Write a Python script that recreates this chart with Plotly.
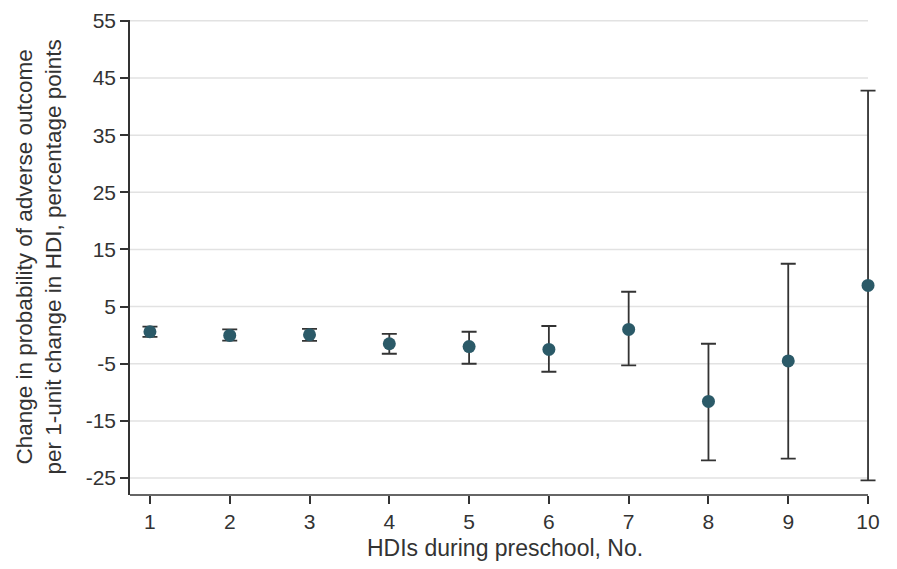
import plotly.graph_objects as go

hdis = [1, 2, 3, 4, 5, 6, 7, 8, 9, 10]
estimate = [0.6, -0.05, 0.07, -1.5, -2.0, -2.5, 1.0, -11.6, -4.5, 8.7]
ci_upper = [1.5, 1.0, 1.1, 0.24, 0.6, 1.6, 7.6, -1.5, 12.5, 42.8]
ci_lower = [-0.3, -0.95, -1.0, -3.25, -5.0, -6.4, -5.3, -21.9, -21.6, -25.4]

y_ticks = [55, 45, 35, 25, 15, 5, -5, -15, -25]
y_ticklabels = ["55", "45", "35", "25", "15", "5", "-5", "-15", "-25"]

x_title = "HDIs during preschool, No."
y_title = "Change in probability of adverse outcome<br>per 1-unit change in HDI, percentage points"

err_plus = [u - e for u, e in zip(ci_upper, estimate)]
err_minus = [e - l for e, l in zip(estimate, ci_lower)]

FONT = "Liberation Sans, Arial, sans-serif"
INK = "#333333"
GRID = "#e2e2e2"
X_MIN, X_MAX = 0.75, 10.15

fig = go.Figure()
fig.add_trace(go.Scatter(
    x=hdis, y=estimate, mode="markers",
    marker=dict(color="#2b5a68", size=13),
    error_y=dict(type="data", symmetric=False, array=err_plus, arrayminus=err_minus,
                 color=INK, thickness=1.8, width=7.5),
    cliponaxis=False, showlegend=False,
))

shapes = []
for v in y_ticks:
    shapes.append(dict(type="line", xref="x", yref="y", x0=X_MIN, x1=max(hdis), y0=v, y1=v,
                       line=dict(color=GRID, width=1.5), layer="below"))
shapes.append(dict(type="line", xref="x", yref="paper", x0=X_MIN, x1=max(hdis), y0=0, y1=0,
                   line=dict(color=INK, width=1.6), layer="above"))

fig.update_layout(
    width=897, height=569,
    margin=dict(l=122, r=25, t=12, b=82),
    paper_bgcolor="white", plot_bgcolor="white",
    font=dict(family=FONT, color=INK, size=20),
    shapes=shapes,
    xaxis=dict(
        range=[X_MIN, X_MAX], tickvals=hdis, ticktext=[str(h) for h in hdis],
        showgrid=False, zeroline=False, showline=False, automargin=False,
        ticks="outside", ticklen=8, tickcolor=INK, tickwidth=1.5,
        ticklabeloverflow="allow",
        tickfont=dict(size=21, family=FONT, color=INK),
    ),
    yaxis=dict(
        range=[-27.97, 55.15], tickvals=y_ticks, ticktext=y_ticklabels,
        showgrid=False, zeroline=False, automargin=False,
        showline=True, linecolor=INK, linewidth=1.6,
        ticks="outside", ticklen=8, tickcolor=INK, tickwidth=1.5,
        ticklabeloverflow="allow",
        tickfont=dict(size=21, family=FONT, color=INK),
    ),
    annotations=[
        dict(text=x_title, xref="paper", yref="paper", x=0.5, y=0, xanchor="center",
             yanchor="middle", yshift=-53, showarrow=False,
             font=dict(size=23, family=FONT, color=INK)),
        dict(text=y_title, xref="paper", yref="paper", x=0, y=0.5, xanchor="center",
             yanchor="middle", xshift=-92, textangle=-90, showarrow=False,
             font=dict(size=22.5, family=FONT, color=INK)),
    ],
)

fig.write_html("out.html")
